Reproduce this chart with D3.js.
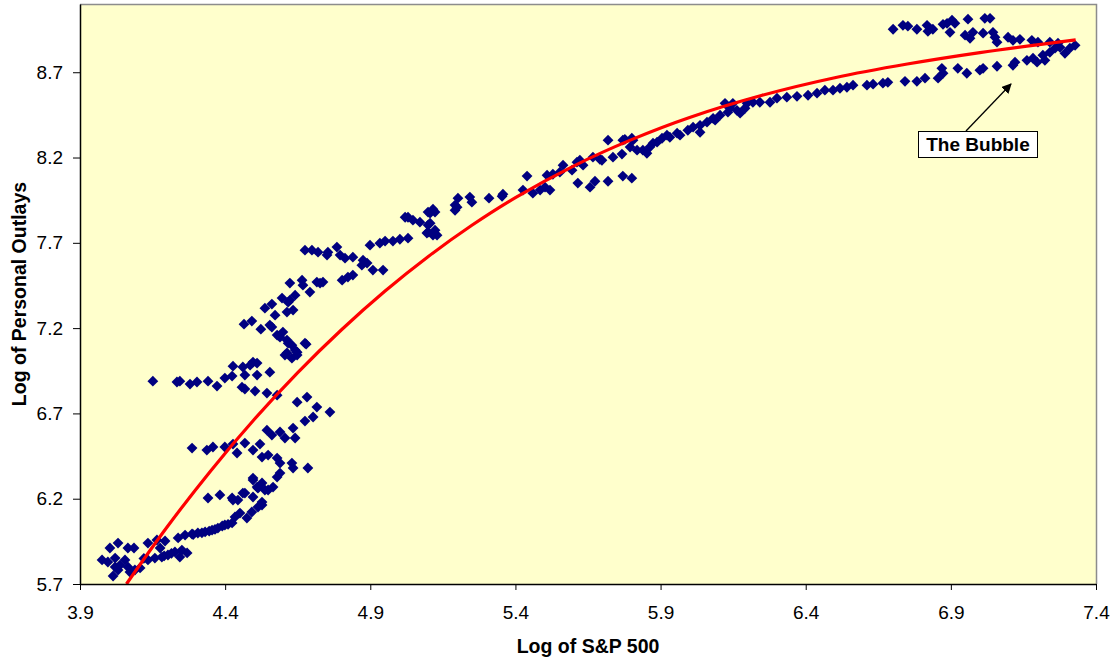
<!DOCTYPE html>
<html>
<head>
<meta charset="utf-8">
<script src="https://cdn.jsdelivr.net/npm/d3@7"></script>
<style>
  html, body { margin: 0; padding: 0; background: #ffffff; }
  svg { display: block; }
  text { font-family: "Liberation Sans", Arial, sans-serif; }
</style>
</head>
<body>
<svg id="chart" width="1116" height="659"></svg>
<script>
// ---------------- DATA ----------------
const xTicks = [3.9, 4.4, 4.9, 5.4, 5.9, 6.4, 6.9, 7.4];
const yTicks = [5.7, 6.2, 6.7, 7.2, 7.7, 8.2, 8.7];
const xTitle = "Log of S&P 500";
const yTitle = "Log of Personal Outlays";
const annotationText = "The Bubble";

const lowCluster = [[4.003,5.911],[4.031,5.940],[4.065,5.911],[4.086,5.911],[3.976,5.841],[3.996,5.829],[4.021,5.852],[4.038,5.811],[4.055,5.841],[4.014,5.747],[4.031,5.782],[4.065,5.800],[4.089,5.782],[4.107,5.794],[4.072,5.770],[4.021,5.800],[4.134,5.841],[4.158,5.852],[4.182,5.858],[4.203,5.870],[4.227,5.888],[4.251,5.899],[4.269,5.882],[4.244,5.858],[4.134,5.940],[4.165,5.958],[4.193,5.952],[4.176,5.911],[4.12,5.85],[4.19,5.865],[4.215,5.88]];

const risingBand = [[4.238,5.970],[4.262,5.987],[4.286,5.993],[4.306,5.999],[4.331,6.005],[4.355,6.016],[4.375,6.028],[4.399,6.046],[4.424,6.058],[4.434,6.093],[4.451,6.116],[4.475,6.087],[4.492,6.122],[4.513,6.151],[4.527,6.180],[4.496,6.210],[4.468,6.233],[4.444,6.192],[4.424,6.204],[4.496,6.309],[4.527,6.292],[4.548,6.251],[4.341,6.204],[4.382,6.222],[4.513,6.262],[4.29,5.99],[4.32,6.00],[4.345,6.01],[4.365,6.02],[4.39,6.04],[4.41,6.05],[4.527,6.163],[4.510,6.268],[4.537,6.251],[4.565,6.268],[4.427,6.192],[4.461,6.233],[4.496,6.321],[4.579,6.327],[4.589,6.350]];

const midLeft = [[4.286,6.497],[4.337,6.485],[4.358,6.503],[4.399,6.503],[4.427,6.520],[4.441,6.468],[4.468,6.526],[4.496,6.485],[4.520,6.520],[4.527,6.444],[4.548,6.456],[4.579,6.438],[4.589,6.409],[4.630,6.409],[4.634,6.380],[4.685,6.380],[4.544,6.602],[4.561,6.573],[4.589,6.591],[4.606,6.556],[4.641,6.556],[4.634,6.614],[4.675,6.655],[4.703,6.679],[4.648,6.766],[4.682,6.796],[4.716,6.737],[4.761,6.708]];

const row69 = [[4.151,6.889],[4.234,6.884],[4.244,6.889],[4.279,6.872],[4.303,6.884],[4.341,6.889],[4.372,6.860],[4.399,6.907],[4.424,6.919],[4.427,6.977],[4.461,6.972],[4.468,6.925],[4.486,6.983],[4.496,7.001],[4.510,6.995],[4.510,6.925],[4.554,6.942],[4.458,6.854],[4.468,6.843],[4.503,6.831],[4.544,6.819],[4.579,6.807],[4.613,7.054],[4.648,7.059],[4.606,7.042],[4.630,7.024],[4.648,7.042]];

const upperLeft = [[4.465,7.223],[4.492,7.241],[4.523,7.194],[4.537,7.317],[4.561,7.341],[4.572,7.276],[4.561,7.206],[4.579,7.159],[4.599,7.177],[4.613,7.130],[4.623,7.364],[4.613,7.294],[4.634,7.306],[4.630,7.100],[4.675,7.112],[4.623,7.464],[4.668,7.452],[4.692,7.411],[4.727,7.464],[4.803,7.481],[4.554,7.218],[4.589,7.147],[4.617,7.112],[4.641,7.071],[4.679,7.106],[4.596,7.376],[4.617,7.352],[4.641,7.393],[4.665,7.481],[4.716,7.470],[4.737,7.470]];

const band77 = [[4.675,7.657],[4.699,7.657],[4.720,7.645],[4.751,7.628],[4.754,7.645],[4.785,7.675],[4.796,7.628],[4.813,7.610],[4.840,7.616],[4.823,7.499],[4.840,7.511],[4.875,7.598],[4.871,7.569],[4.889,7.581],[4.909,7.540],[4.944,7.540],[4.899,7.686],[4.933,7.698],[4.951,7.710],[4.978,7.710],[5.002,7.721],[5.030,7.727],[5.020,7.850],[5.047,7.833],[5.071,7.821],[5.106,7.874],[5.123,7.880],[5.106,7.815],[5.099,7.763],[5.116,7.745],[5.123,7.774],[5.192,7.921],[5.192,7.891],[5.030,7.850],[5.099,7.880],[5.116,7.897],[5.099,7.804],[5.095,7.757],[5.130,7.745],[5.199,7.909],[5.202,7.962],[5.243,7.968],[5.250,7.938],[5.309,7.962],[5.354,7.973],[5.357,7.985]];

const band82 = [[5.440,8.091],[5.426,8.009],[5.460,7.991],[5.485,8.009],[5.502,8.026],[5.519,8.009],[5.509,8.096],[5.529,8.102],[5.553,8.114],[5.564,8.155],[5.595,8.126],[5.612,8.173],[5.622,8.184],[5.633,8.155],[5.615,8.050],[5.657,8.026],[5.674,8.061],[5.719,8.061],[5.770,8.091],[5.801,8.079],[5.667,8.202],[5.691,8.190],[5.736,8.202],[5.767,8.220],[5.719,8.302],[5.777,8.307],[5.805,8.302],[5.795,8.261],[5.819,8.243],[5.839,8.243],[5.853,8.225],[5.863,8.261],[5.874,8.284],[5.888,8.290],[5.905,8.313],[5.922,8.331],[5.932,8.319],[5.957,8.343],[5.698,8.184],[5.770,8.302],[5.801,8.313]];

const band85 = [[5.967,8.331],[5.994,8.360],[6.012,8.378],[6.036,8.389],[6.036,8.348],[6.060,8.407],[6.081,8.430],[6.105,8.448],[6.122,8.518],[6.132,8.466],[6.149,8.518],[6.163,8.477],[6.174,8.460],[6.198,8.518],[6.218,8.524],[6.242,8.524],[6.277,8.524],[6.301,8.548],[6.335,8.554],[6.370,8.559],[6.408,8.565],[6.439,8.577],[6.466,8.595],[6.494,8.595],[6.518,8.606],[6.542,8.612],[6.563,8.624],[6.611,8.624],[6.632,8.630],[6.666,8.636],[6.683,8.641],[6.742,8.647],[6.783,8.647],[6.088,8.419],[6.139,8.489],[6.191,8.489]];

const bubbleLower = [[6.811,8.665],[6.856,8.665],[6.869,8.723],[6.873,8.694],[6.924,8.723],[6.955,8.694],[7.000,8.712],[7.011,8.723],[7.059,8.735],[7.114,8.741],[7.121,8.759],[7.162,8.770],[7.183,8.782],[7.197,8.759],[7.217,8.800],[7.224,8.770],[7.241,8.817],[7.259,8.841],[7.276,8.846],[7.293,8.811],[7.310,8.841],[7.328,8.858]];

const bubbleUpper = [[6.701,8.952],[6.735,8.975],[6.752,8.970],[6.783,8.952],[6.818,8.975],[6.821,8.940],[6.838,8.952],[6.873,8.981],[6.887,8.987],[6.904,9.005],[6.914,8.987],[6.897,8.934],[6.959,9.011],[6.976,8.934],[6.949,8.917],[6.966,8.899],[7.011,8.929],[7.017,9.016],[7.035,9.016],[7.045,8.934],[7.052,8.905],[7.059,8.876],[7.097,8.905],[7.114,8.887],[7.138,8.893],[7.179,8.887],[7.200,8.876],[7.241,8.876],[7.269,8.870]];

// fitted trend line
const trendX = [4.06, 4.20, 4.35, 4.50, 4.65, 4.80, 4.95, 5.10, 5.25, 5.40, 5.60, 5.80, 6.00, 6.25, 6.50, 6.75, 7.00, 7.33];
const trendY = [5.70, 6.034, 6.363, 6.664, 6.939, 7.189, 7.416, 7.620, 7.803, 7.965, 8.150, 8.305, 8.435, 8.565, 8.668, 8.748, 8.815, 8.89];

// ---------------- LAYOUT ----------------
const plot = { left: 80, right: 1096, top: 4, bottom: 584 };
const xDomain = [3.9, 7.4];
const yDomain = [5.7, 9.1];

const svg = d3.select("#chart");
const x = d3.scaleLinear().domain(xDomain).range([plot.left, plot.right]);
const y = d3.scaleLinear().domain(yDomain).range([plot.bottom, plot.top]);

// plot background
svg.append("rect")
  .attr("x", plot.left).attr("y", plot.top)
  .attr("width", plot.right - plot.left).attr("height", plot.bottom - plot.top)
  .attr("fill", "#FFFFCC");

// gray top / right border
svg.append("path")
  .attr("d", `M${plot.left},${plot.top + 0.5}H${plot.right + 0.5}V${plot.bottom}`)
  .attr("fill", "none").attr("stroke", "#8c8c8c").attr("stroke-width", 1.5);

// scatter points
const allPoints = [].concat(lowCluster, risingBand, midLeft, row69, upperLeft,
                            band77, band82, band85, bubbleLower, bubbleUpper);
const r = 5.4;
const diamond = `M0,${-r}L${r},0L0,${r}L${-r},0Z`;
svg.append("g").attr("class", "points")
  .selectAll("path").data(allPoints).join("path")
  .attr("d", diamond)
  .attr("transform", d => `translate(${x(d[0])},${y(d[1])})`)
  .attr("fill", "#000080");

// trend line
const trend = trendX.map((v, i) => [v, trendY[i]]);
svg.append("path")
  .datum(trend)
  .attr("d", d3.line().x(d => x(d[0])).y(d => y(d[1])).curve(d3.curveCatmullRom.alpha(0.5)))
  .attr("fill", "none").attr("stroke", "#FF0000").attr("stroke-width", 3.2)
  .attr("stroke-linecap", "butt");

// axes
const xAxis = d3.axisBottom(x).tickValues(xTicks).tickFormat(d3.format(".1f"))
  .tickSizeInner(6).tickSizeOuter(0).tickPadding(16);
const gx = svg.append("g").attr("transform", `translate(0,${plot.bottom})`).call(xAxis);
gx.select(".domain").attr("stroke", "#000").attr("stroke-width", 1.5);
gx.selectAll(".tick line").attr("stroke", "#000");
gx.selectAll(".tick text").attr("font-size", 19).attr("fill", "#000")
  .attr("font-family", "'Liberation Sans', Arial, sans-serif");

const yAxis = d3.axisLeft(y).tickValues(yTicks).tickFormat(d3.format(".1f"))
  .tickSizeInner(7).tickSizeOuter(0).tickPadding(10);
const gy = svg.append("g").attr("transform", `translate(${plot.left},0)`).call(yAxis);
gy.select(".domain").attr("stroke", "#000").attr("stroke-width", 1.5);
gy.selectAll(".tick line").attr("stroke", "#000");
gy.selectAll(".tick text").attr("font-size", 19).attr("fill", "#000")
  .attr("font-family", "'Liberation Sans', Arial, sans-serif");

// axis titles
svg.append("text")
  .attr("x", (plot.left + plot.right) / 2).attr("y", 653)
  .attr("text-anchor", "middle").attr("font-size", 19.5).attr("font-weight", "bold")
  .text(xTitle);
svg.append("text")
  .attr("transform", `translate(26,${(plot.top + plot.bottom) / 2}) rotate(-90)`)
  .attr("text-anchor", "middle").attr("font-size", 19.5).attr("font-weight", "bold")
  .text(yTitle);

// annotation with arrow
const defs = svg.append("defs");
defs.append("marker")
  .attr("id", "arrow").attr("viewBox", "0 0 10 10")
  .attr("refX", 9).attr("refY", 5)
  .attr("markerWidth", 10).attr("markerHeight", 10)
  .attr("markerUnits", "userSpaceOnUse")
  .attr("orient", "auto")
  .append("path").attr("d", "M0,0L10,5L0,10Z").attr("fill", "#000");

const box = { x: 918, y: 131, w: 119, h: 26 };
svg.append("line")
  .attr("x1", 966).attr("y1", box.y)
  .attr("x2", 1011).attr("y2", 84)
  .attr("stroke", "#000").attr("stroke-width", 1.3)
  .attr("marker-end", "url(#arrow)");
svg.append("rect")
  .attr("x", box.x + 0.5).attr("y", box.y + 0.5)
  .attr("width", box.w).attr("height", box.h)
  .attr("fill", "#fff").attr("stroke", "#000").attr("stroke-width", 1);
svg.append("text")
  .attr("x", box.x + box.w / 2 + 0.5).attr("y", box.y + box.h / 2 + 7)
  .attr("text-anchor", "middle").attr("font-size", 19).attr("font-weight", "bold")
  .text(annotationText);
</script>
</body>
</html>
